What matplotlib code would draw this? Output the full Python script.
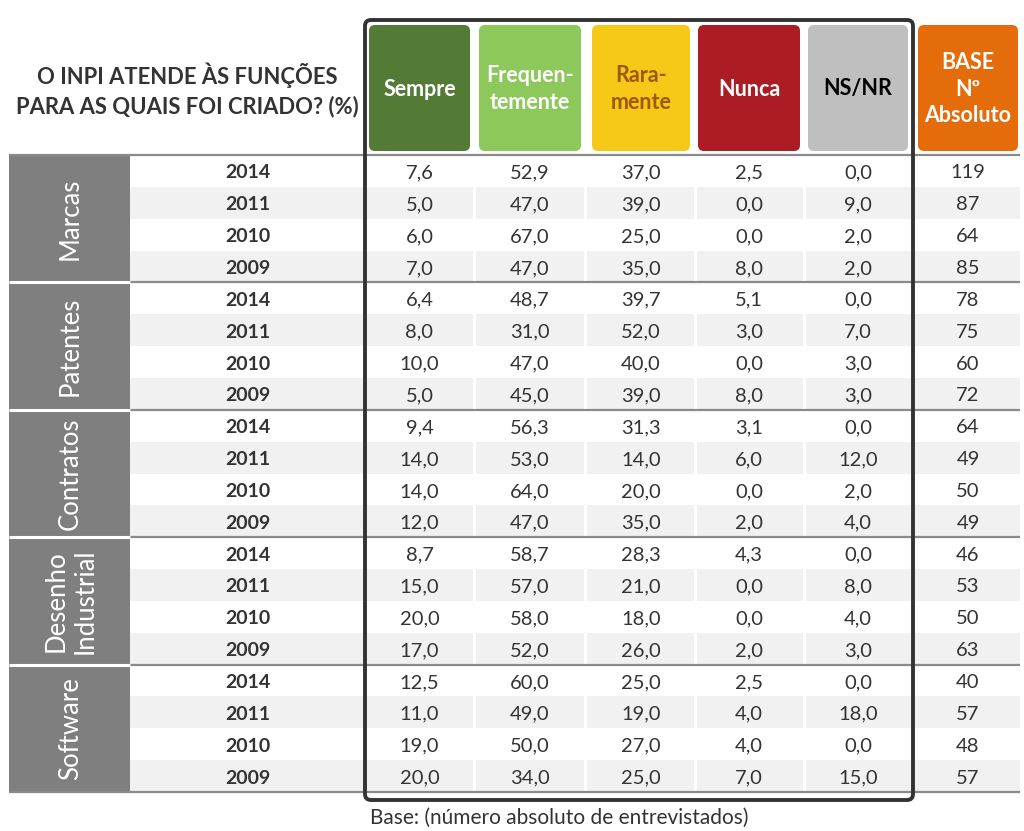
import matplotlib
matplotlib.use("Agg")
import matplotlib.pyplot as plt
from matplotlib.patches import Rectangle, FancyBboxPatch

plt.rcParams['font.family'] = ['Lato', 'DejaVu Sans']

title = "O INPI ATENDE ÀS FUNÇÕES\nPARA AS QUAIS FOI CRIADO? (%)"
categories = ["Marcas", "Patentes", "Contratos", "Desenho\nIndustrial", "Software"]
years = ["2014", "2011", "2010", "2009"]
headers = ["Sempre", "Frequen-\ntemente", "Rara-\nmente", "Nunca", "NS/NR", "BASE\nNº\nAbsoluto"]
header_colors = ["#537b35", "#8cc85a", "#f6c919", "#ab1c24", "#bfbfbf", "#e46c0a"]
header_text_colors = ["white", "white", "#9c5a00", "white", "black", "white"]

sempre = [7.6, 5.0, 6.0, 7.0, 6.4, 8.0, 10.0, 5.0, 9.4, 14.0, 14.0, 12.0,
          8.7, 15.0, 20.0, 17.0, 12.5, 11.0, 19.0, 20.0]
frequentemente = [52.9, 47.0, 67.0, 47.0, 48.7, 31.0, 47.0, 45.0, 56.3, 53.0, 64.0, 47.0,
                  58.7, 57.0, 58.0, 52.0, 60.0, 49.0, 50.0, 34.0]
raramente = [37.0, 39.0, 25.0, 35.0, 39.7, 52.0, 40.0, 39.0, 31.3, 14.0, 20.0, 35.0,
             28.3, 21.0, 18.0, 26.0, 25.0, 19.0, 27.0, 25.0]
nunca = [2.5, 0.0, 0.0, 8.0, 5.1, 3.0, 0.0, 8.0, 3.1, 6.0, 0.0, 2.0,
         4.3, 0.0, 0.0, 2.0, 2.5, 4.0, 4.0, 7.0]
nsnr = [0.0, 9.0, 2.0, 2.0, 0.0, 7.0, 3.0, 3.0, 0.0, 12.0, 2.0, 4.0,
        0.0, 8.0, 4.0, 3.0, 0.0, 18.0, 0.0, 15.0]
base = [119, 87, 64, 85, 78, 75, 60, 72, 64, 49, 50, 49,
        46, 53, 50, 63, 40, 57, 48, 57]
footnote = "Base: (número absoluto de entrevistados)"

W, H = 1024, 831
fig = plt.figure(figsize=(W / 100, H / 100), dpi=100)
ax = fig.add_axes([0, 0, 1, 1])
ax.set_xlim(0, W)
ax.set_ylim(H, 0)
ax.axis("off")

# layout
top = 155
rh = (792 - 155) / 20
cat_x0, cat_x1 = 9, 130
year_x1 = 364
col_bounds = [(366, 473), (476, 584), (587, 694), (697, 803), (806, 912), (915, 1020)]
head_boxes = [(369, 470), (479, 581), (592, 690), (698, 800), (808, 908), (918, 1018)]

cols = [sempre, frequentemente, raramente, nunca, nsnr]
nrows = len(base)
ny = len(years)
dy = 2

# row stripes
for i in range(nrows):
    y0 = top + i * rh
    if i % 2 == 1:
        ax.add_patch(Rectangle((cat_x1, y0), year_x1 - cat_x1, rh, facecolor="#f1f1f1", edgecolor="none"))
        for (a, b) in col_bounds:
            ax.add_patch(Rectangle((a, y0), b - a, rh, facecolor="#f1f1f1", edgecolor="none"))
    yc = y0 + rh / 2 + dy
    ax.text(248, yc, years[i % ny], ha="center", va="center", fontsize=14,
            fontweight="bold", color="#333333")
    for j, col in enumerate(cols):
        cx = (head_boxes[j][0] + head_boxes[j][1]) / 2
        ax.text(cx, yc, f"{col[i]:.1f}".replace(".", ","), ha="center", va="center",
                fontsize=14.5, color="#333333")
    cx = (head_boxes[5][0] + head_boxes[5][1]) / 2
    ax.text(cx, yc, str(base[i]), ha="center", va="center", fontsize=14.5, color="#333333")

# category column
for g, cat in enumerate(categories):
    y0 = top + g * ny * rh
    ax.add_patch(Rectangle((cat_x0, y0), cat_x1 - cat_x0, ny * rh, facecolor="#7f7f7f", edgecolor="none"))
    ax.text((cat_x0 + cat_x1) / 2 + 1, y0 + ny * rh / 2, cat, rotation=90, ha="center", va="center",
            fontsize=18.5, color="white", linespacing=1.2, multialignment="center")

# group separator lines
for g in range(len(categories) + 1):
    y = top + g * ny * rh
    ax.plot([cat_x1, 1020], [y, y], color="#8a8a8a", lw=1.6, solid_capstyle="butt")
    if 0 < g < len(categories):
        ax.plot([cat_x0, cat_x1], [y, y], color="white", lw=2.2, solid_capstyle="butt")
    else:
        ax.plot([cat_x0, cat_x1], [y, y], color="#8a8a8a", lw=1.6, solid_capstyle="butt")

# header boxes
for j, (a, b) in enumerate(head_boxes):
    ax.add_patch(FancyBboxPatch((a, 25), b - a, 126, boxstyle="round,pad=0,rounding_size=6",
                                facecolor=header_colors[j], edgecolor="none"))
    ax.text((a + b) / 2, 89, headers[j], ha="center", va="center", fontsize=15.5,
            fontweight="bold", color=header_text_colors[j], linespacing=1.3,
            multialignment="center")

# dark frame
ax.add_patch(FancyBboxPatch((365, 20), 548, 780, boxstyle="round,pad=0,rounding_size=6",
                            facecolor="none", edgecolor="#333333", lw=2.8, zorder=5))

ax.text(187, 90, title, ha="center", va="center", fontsize=15.8, fontweight="bold",
        color="#333333", linespacing=1.45, multialignment="center")
ax.text(370, 818, footnote, ha="left", va="center", fontsize=15, color="#333333")

fig.savefig("out.png", dpi=100)
